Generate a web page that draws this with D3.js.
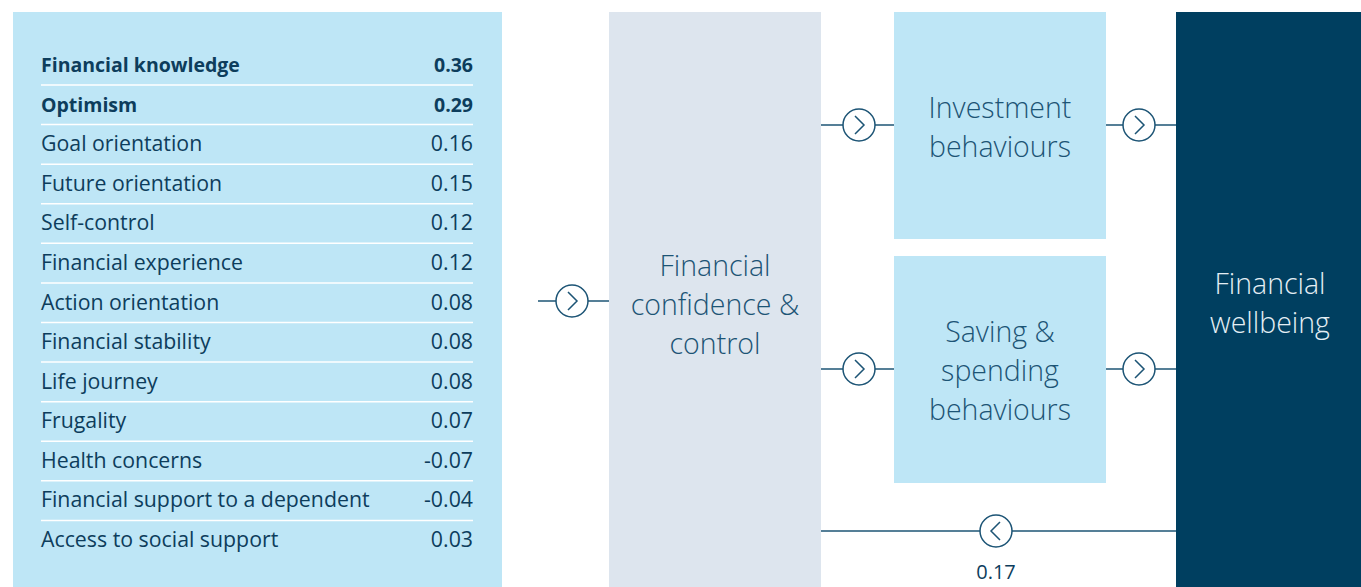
<!DOCTYPE html>
<html>
<head>
<meta charset="utf-8">
<script src="https://cdn.jsdelivr.net/npm/d3@7"></script>
<style>
  body { margin: 0; background: #fff; }
  svg { display: block; font-family: "Open Sans", "Noto Sans", sans-serif; }
</style>
</head>
<body>
<script>
const WIDTH = 1361;
const HEIGHT = 587;

// factor names and their path coefficients
const factors = [
    "Financial knowledge", "Optimism", "Goal orientation", "Future orientation",
    "Self-control", "Financial experience", "Action orientation", "Financial stability",
    "Life journey", "Frugality", "Health concerns", "Financial support to a dependent",
    "Access to social support"
];
const coefficients = ["0.36", "0.29", "0.16", "0.15", "0.12", "0.12", "0.08", "0.08",
    "0.08", "0.07", "-0.07", "-0.04", "0.03"];
const boldRows = ["Financial knowledge", "Optimism"];
const feedbackValue = "0.17";

const LIGHT = "#bee6f6";
const GREY = "#dde5ee";
const DARK = "#003f60";
const INK = "#0d3d5c";
const SOFT = "#1c5475";

var svg = d3.select("body").append("svg")
    .attr("width", WIDTH)
    .attr("height", HEIGHT);

// row scale for the factor table
var row = d3.scaleLinear().domain([0, factors.length - 1]).range([72, 547]);

// panels
svg.append("rect").attr("x", 13).attr("y", 12).attr("width", 489).attr("height", 575).attr("fill", LIGHT);
svg.append("rect").attr("x", 609).attr("y", 12).attr("width", 212).attr("height", 575).attr("fill", GREY);
svg.append("rect").attr("x", 894).attr("y", 12).attr("width", 212).attr("height", 227).attr("fill", LIGHT);
svg.append("rect").attr("x", 894).attr("y", 256).attr("width", 212).attr("height", 227).attr("fill", LIGHT);
svg.append("rect").attr("x", 1176).attr("y", 12).attr("width", 185).attr("height", 575).attr("fill", DARK);

// table separators
svg.selectAll("line.sep")
    .data(factors.slice(0, -1))
    .enter().append("line")
    .attr("class", "sep")
    .attr("x1", 41).attr("x2", 473)
    .attr("y1", (d, i) => row(i) + 13)
    .attr("y2", (d, i) => row(i) + 13)
    .attr("stroke", "#fff")
    .attr("stroke-width", 1.5);

// bold Open Sans runs wider than the original face, so it gets a smaller size
var isBold = i => boldRows.includes(factors[i]);

svg.selectAll("text.factor")
    .data(factors)
    .enter().append("text")
    .attr("class", "factor")
    .attr("x", 41)
    .attr("y", (d, i) => row(i))
    .attr("font-size", (d, i) => isBold(i) ? 19.5 : 21.3)
    .attr("font-weight", (d, i) => isBold(i) ? 700 : 400)
    .attr("fill", INK)
    .text(d => d);

svg.selectAll("text.coef")
    .data(coefficients)
    .enter().append("text")
    .attr("class", "coef")
    .attr("x", 473)
    .attr("y", (d, i) => row(i))
    .attr("text-anchor", "end")
    .attr("font-size", (d, i) => isBold(i) ? 19.5 : 21.3)
    .attr("font-weight", (d, i) => isBold(i) ? 700 : 400)
    .attr("fill", INK)
    .text(d => d);

// connector: line with a circled chevron
function connector(x1, x2, cx, y, dir) {
    svg.append("line")
        .attr("x1", x1).attr("x2", x2).attr("y1", y).attr("y2", y)
        .attr("stroke", SOFT).attr("stroke-width", 1.5);
    svg.append("circle")
        .attr("cx", cx).attr("cy", y).attr("r", 16)
        .attr("fill", "#fff").attr("stroke", SOFT).attr("stroke-width", 1.5);
    var s = dir > 0 ? 1 : -1;
    svg.append("path")
        .attr("d", `M${cx - 4 * s},${y - 9} L${cx + 5 * s},${y} L${cx - 4 * s},${y + 9}`)
        .attr("fill", "none").attr("stroke", SOFT).attr("stroke-width", 1.5);
}

connector(538, 609, 572, 301, 1);
connector(821, 894, 859, 125, 1);
connector(1106, 1176, 1139, 125, 1);
connector(821, 894, 859, 369, 1);
connector(1106, 1176, 1139, 369, 1);
connector(821, 1176, 996, 531, -1);

// feedback coefficient, nudged up so it sits fully inside the frame
svg.append("text")
    .attr("x", 996).attr("y", 579)
    .attr("text-anchor", "middle")
    .attr("font-size", 20)
    .attr("fill", INK)
    .text(feedbackValue);

// box labels
function label(lines, cx, y0, color) {
    svg.append("g").selectAll("text")
        .data(lines)
        .enter().append("text")
        .attr("x", cx)
        .attr("y", (d, i) => y0 + i * 39)
        .attr("text-anchor", "middle")
        .attr("font-size", 28.5)
        .attr("font-weight", 300)
        .attr("fill", color)
        .text(d => d);
}

label(["Financial", "confidence &", "control"], 715, 276, SOFT);
label(["Investment", "behaviours"], 1000, 118, SOFT);
label(["Saving &", "spending", "behaviours"], 1000, 342, SOFT);
label(["Financial", "wellbeing"], 1270, 294, "#e4eef4");
</script>
</body>
</html>
